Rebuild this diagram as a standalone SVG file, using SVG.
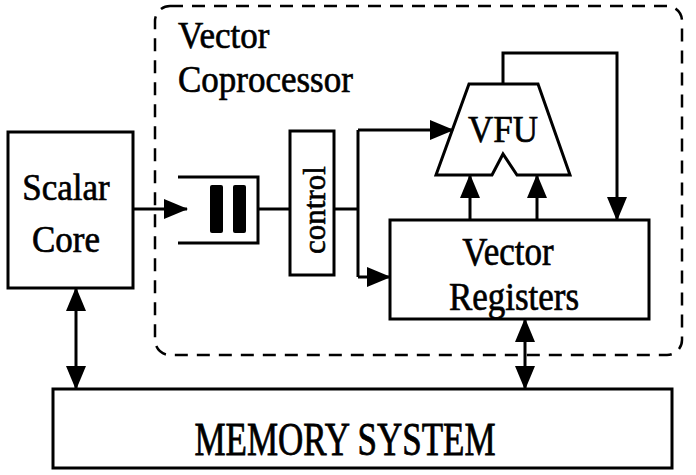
<svg xmlns="http://www.w3.org/2000/svg" width="696" height="475" viewBox="0 0 696 475">
<style>
.box{fill:#fff;stroke:#000;stroke-width:3}
.ln{fill:none;stroke:#000;stroke-width:3}
.t{font-family:"Liberation Serif","Times New Roman",serif;font-size:35px;fill:#000;stroke:#000;stroke-width:0.6}
.dash{fill:none;stroke:#000;stroke-width:2.5;stroke-dasharray:13 9}
</style>
<defs>
<marker id="ah" viewBox="0 0 24 20" markerWidth="24" markerHeight="20" refX="23" refY="10" orient="auto-start-reverse" markerUnits="userSpaceOnUse">
<path d="M0,0 L24,10 L0,20 z" fill="#000"/>
</marker>
</defs>
<rect width="696" height="475" fill="#fff"/>
<g id="coprocessor">
<rect class="dash" x="155" y="6" width="527" height="349" rx="15"/>
<text class="t" transform="translate(178,48) scale(1,1.08)">Vector</text>
<text class="t" transform="translate(178,92) scale(1,1.08)">Coprocessor</text>
</g>
<g id="scalar-core">
<rect class="box" x="8" y="132" width="125" height="156"/>
<text class="t" transform="translate(66,200) scale(1,1.08)" text-anchor="middle">Scalar</text>
<text class="t" transform="translate(66,252) scale(1,1.08)" text-anchor="middle">Core</text>
</g>
<g id="queue">
<path class="ln" d="M178,177 H258 V243 H178"/>
<rect x="210" y="185" width="13" height="48" rx="2" fill="#000"/>
<rect x="233" y="185" width="13" height="48" rx="2" fill="#000"/>
</g>
<g id="control">
<rect class="box" x="290" y="131" width="44" height="144"/>
<text class="t" style="font-size:31px" transform="translate(325,210) rotate(-90)" text-anchor="middle">control</text>
</g>
<g id="vfu">
<polygon class="box" points="469,84 538,84 570,175 517,175 503,154 492,175 436,175"/>
<text class="t" transform="translate(503,142) scale(1,1.08)" text-anchor="middle">VFU</text>
</g>
<g id="vector-registers">
<rect class="box" x="390" y="220" width="259" height="99"/>
<text class="t" transform="translate(508,265) scale(1,1.12)" text-anchor="middle">Vector</text>
<text class="t" transform="translate(514,310) scale(1,1.12)" text-anchor="middle">Registers</text>
</g>
<g id="memory">
<rect class="box" x="53" y="389" width="619" height="79"/>
<text class="t" transform="translate(345,455) scale(1,1.3)" text-anchor="middle">MEMORY SYSTEM</text>
</g>
<g id="connectors">
<path class="ln" d="M133,209 H187" marker-end="url(#ah)"/>
<path class="ln" d="M258,209 H290"/>
<path class="ln" d="M334,209 H358"/>
<path class="ln" d="M358,130 V277"/>
<path class="ln" d="M358,130 H453" marker-end="url(#ah)"/>
<path class="ln" d="M358,277 H390" marker-end="url(#ah)"/>
<path class="ln" d="M503,84 V53 H617 V220" marker-end="url(#ah)"/>
<path class="ln" d="M470,220 V175" marker-end="url(#ah)"/>
<path class="ln" d="M537,220 V175" marker-end="url(#ah)"/>
<path class="ln" d="M525,319 V389" marker-start="url(#ah)" marker-end="url(#ah)"/>
<path class="ln" d="M76,288 V389" marker-start="url(#ah)" marker-end="url(#ah)"/>
</g>
</svg>
